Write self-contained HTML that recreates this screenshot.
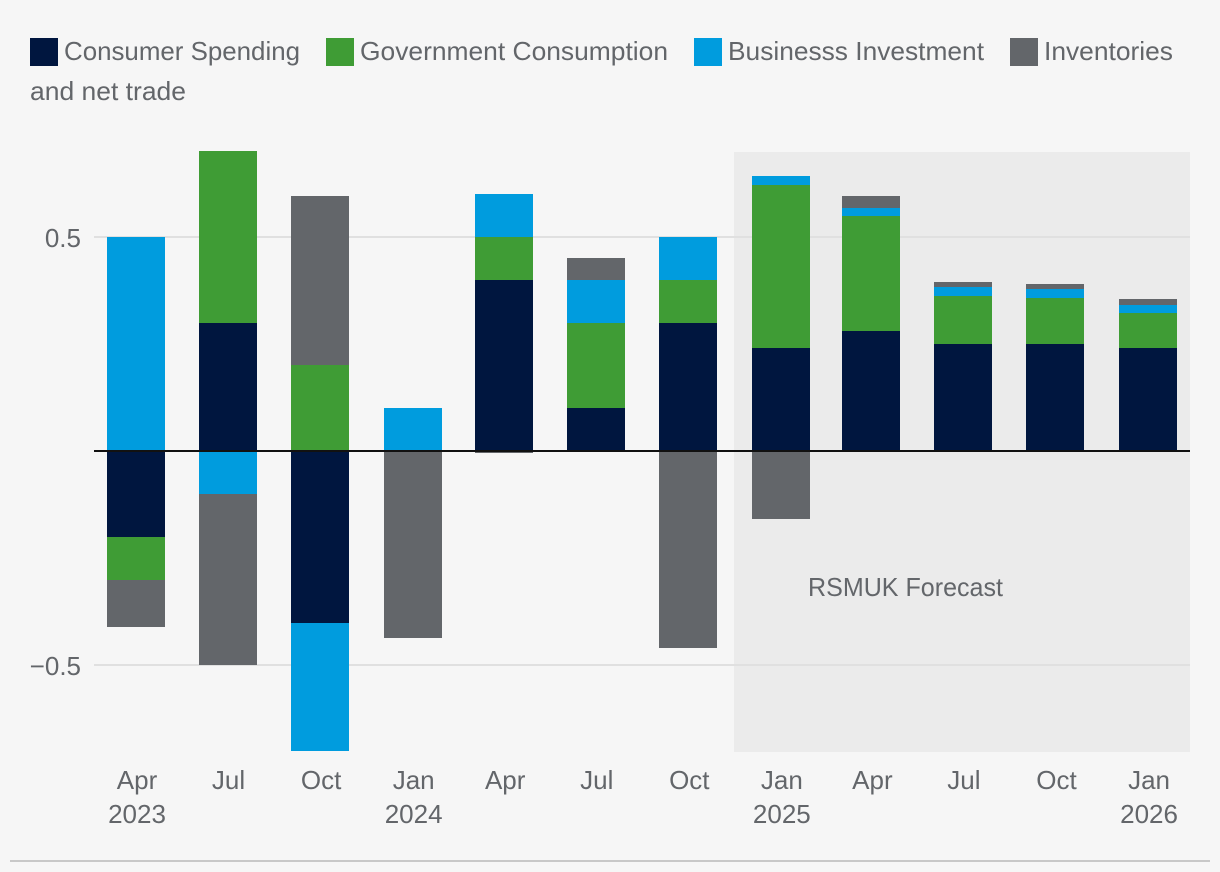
<!DOCTYPE html>
<html lang="en">
<head>
<meta charset="utf-8">
<title>GDP contributions chart</title>
<style>
html,body{margin:0;padding:0;background:#f6f6f6;width:1220px;height:872px;overflow:hidden}
svg{display:block}
text{font-family:"Liberation Sans",sans-serif;font-size:26px;fill:#63666a}
</style>
</head>
<body>
<svg id="chart" xmlns="http://www.w3.org/2000/svg" width="1220" height="872" viewBox="0 0 1220 872">
  <rect x="0" y="0" width="1220" height="872" fill="#f6f6f6"/>
  <rect x="734" y="152" width="456" height="600" fill="#ebebeb"/>
  <g id="grid"></g>
  <g id="bars"></g>
  <line x1="94" x2="1190" y1="451" y2="451" stroke="#111111" stroke-width="2"/>
  <g id="yticks"></g>
  <g id="xticks"></g>
  <text x="808" y="596" textLength="195" lengthAdjust="spacingAndGlyphs">RSMUK Forecast</text>
  <g>
    <rect x="30" y="38" width="28" height="28" fill="#00163f"/>
    <text x="64" y="60" textLength="236" lengthAdjust="spacingAndGlyphs">Consumer Spending</text>
    <text x="30" y="100" textLength="156" lengthAdjust="spacingAndGlyphs">and net trade</text>
    <rect x="326" y="38" width="28" height="28" fill="#3f9c35"/>
    <text x="360" y="60" textLength="308" lengthAdjust="spacingAndGlyphs">Government Consumption</text>
    <rect x="694" y="38" width="28" height="28" fill="#009cde"/>
    <text x="728" y="60" textLength="256" lengthAdjust="spacingAndGlyphs">Businesss Investment</text>
    <rect x="1010" y="38" width="28" height="28" fill="#63666a"/>
    <text x="1044" y="60" textLength="129" lengthAdjust="spacingAndGlyphs">Inventories</text>
  </g>
  <rect x="10" y="860" width="1200" height="2" fill="#c8c8c8"/>
</svg>
<script>
const quarters = ["2023-04-01","2023-07-01","2023-10-01","2024-01-01","2024-04-01","2024-07-01","2024-10-01","2025-01-01","2025-04-01","2025-07-01","2025-10-01","2026-01-01"];
const tickMonths = ["Apr","Jul","Oct","Jan","Apr","Jul","Oct","Jan","Apr","Jul","Oct","Jan"];
const tickYears = ["2023","","","2024","","","","2025","","","","2026"];
const consumer = [-0.2,0.3,-0.402,0,0.4,0.1,0.3,0.241,0.28,0.25,0.25,0.241];
const government = [-0.102,0.402,0.2,0,0.1,0.2,0.1,0.381,0.269,0.112,0.107,0.082];
const business = [0.5,-0.1,-0.3,0.1,0.1,0.1,0.1,0.021,0.019,0.021,0.021,0.019];
const inventories = [-0.109,-0.4,0.395,-0.437,-0.005,0.05,-0.46,-0.159,0.028,0.012,0.012,0.014];
const yTicks = [0.5,-0.5];
const yTickLabels = ["0.5","\u22120.5"];

const NS = "http://www.w3.org/2000/svg";
const DAY = 86400000;
const t0 = Date.parse(quarters[0]);
function xScale(d){ return 136 + (Date.parse(d) - t0) / DAY * 1.006; }
function yScale(v){ return 451 - v * 428; }

const gridG = document.getElementById("grid");
const barsG = document.getElementById("bars");
const yG = document.getElementById("yticks");
const xG = document.getElementById("xticks");

yTicks.forEach(function(v,i){
  const line = document.createElementNS(NS,"line");
  
  
  line.setAttribute("x1",94);
  line.setAttribute("x2",1190);
  line.setAttribute("y1",yScale(v));
  line.setAttribute("y2",yScale(v));
  line.setAttribute("stroke","#e0e0e0");
  line.setAttribute("stroke-width",2);
  gridG.appendChild(line);
  const t = document.createElementNS(NS,"text");
  
  
  t.setAttribute("x",81);
  t.setAttribute("y",yScale(v)+10);
  t.setAttribute("text-anchor","end");
  t.textContent = yTickLabels[i];
  yG.appendChild(t);
});

const seriesList = [
  {key:"consumer", values:consumer, color:"#00163f"},
  {key:"government", values:government, color:"#3f9c35"},
  {key:"business", values:business, color:"#009cde"},
  {key:"inventories", values:inventories, color:"#63666a"}
];

quarters.forEach(function(q,i){
  let pos = 0, neg = 0;
  const cx = xScale(q);
  seriesList.forEach(function(s){
    const v = s.values[i];
    if(v === 0) return;
    let a, b;
    if(v > 0){ a = pos; b = pos + v; pos = b; }
    else { a = neg; b = neg + v; neg = b; }
    const y1 = Math.round(yScale(Math.max(a,b)));
    const y2 = Math.round(yScale(Math.min(a,b)));
    const r = document.createElementNS(NS,"rect");
    
    
    r.setAttribute("data-series",s.key);
    r.setAttribute("x",Math.round(cx-29));
    r.setAttribute("y",y1);
    r.setAttribute("width",58);
    r.setAttribute("height",Math.max(y2-y1,1));
    r.setAttribute("fill",s.color);
    barsG.appendChild(r);
  });
  const m = document.createElementNS(NS,"text");
  
  
  m.setAttribute("x",cx+1);
  m.setAttribute("y",789);
  m.setAttribute("text-anchor","middle");
  m.textContent = tickMonths[i];
  xG.appendChild(m);
  if(tickYears[i]){
    const y = document.createElementNS(NS,"text");
    
    
    y.setAttribute("x",cx+1);
    y.setAttribute("y",823);
    y.setAttribute("text-anchor","middle");
    y.textContent = tickYears[i];
    xG.appendChild(y);
  }
});
</script>
</body>
</html>
